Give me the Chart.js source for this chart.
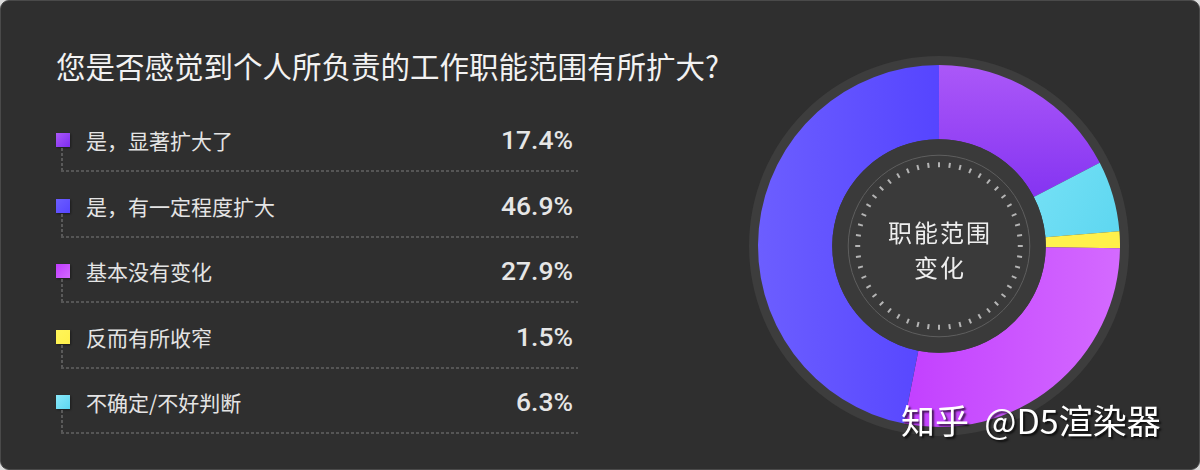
<!DOCTYPE html>
<html>
<head>
<meta charset="utf-8">
<script src="https://cdn.jsdelivr.net/npm/chart.js@4.4.0/dist/chart.umd.min.js"></script>
<style>
  html, body { margin: 0; padding: 0; background: #dcdcdc; }
  #card {
    position: relative; width: 1198px; height: 468px; background: #2f2f2f;
    border: 1px solid #4a4a4a; border-radius: 9px; overflow: hidden;
    font-family: "Noto Sans CJK SC", "Noto Sans", sans-serif;
  }
  #title { position: absolute; left: 55px; top: 44px; font-size: 29.5px; line-height: 40px; color: #f2f2f2; white-space: nowrap; }
  #legend { position: absolute; left: 0; top: 0; width: 600px; height: 468px; }
  .row { position: absolute; left: 0; width: 600px; height: 40px; }
  .mark { position: absolute; left: 55px; top: 13px; width: 14px; height: 14px; box-shadow: 1px 1px 2px rgba(0,0,0,0.4); }
  .vline { position: absolute; left: 60px; top: 28px; width: 2px; height: 23px;
           background: repeating-linear-gradient(to bottom, #5a5a5a 0 3px, transparent 3px 5px); }
  .hline { position: absolute; left: 60px; top: 50px; width: 517px; height: 2px;
           background: repeating-linear-gradient(to right, #555 0 3px, transparent 3px 5px); }
  .lab { position: absolute; left: 85px; top: 0; font-size: 21px; line-height: 40px; color: #e4e4e4; white-space: nowrap; }
  .pct { position: absolute; right: 28px; top: 0; font-family: Roboto, sans-serif; font-weight: 500; font-size: 26.5px; line-height: 40px; color: #e6e6e6; }
  #wrap { position: absolute; left: 738px; top: 45px; width: 400px; height: 400px; }
  #wm { position: absolute; left: 900px; top: 397px; font-size: 34px; line-height: 44px; color: #fff; white-space: pre;
        text-shadow: 2px 2px 2px rgba(0,0,0,0.7); }
</style>
</head>
<body>
<div id="card">
  <div id="title">您是否感觉到个人所负责的工作职能范围有所扩大?</div>
  <div id="legend"></div>
  <div id="wrap"><canvas id="donut"></canvas></div>
  <div id="wm">知乎  @D5渲染器</div>
</div>
<script>
const labels = ['是，显著扩大了', '是，有一定程度扩大', '基本没有变化', '反而有所收窄', '不确定/不好判断'];
const values = [17.4, 46.9, 27.9, 1.5, 6.3];
// clockwise order of the slices from 12 o'clock
const donutOrder = [0, 4, 3, 2, 1];
const centerLines = ['职能范围', '变化'];

// gradient stops per category [start, end]
const colors = [
  ['#ab58f8', '#7c2cf0'],
  ['#6c5eff', '#5645ff'],
  ['#c03bff', '#d46aff'],
  ['#fff55a', '#fff04a'],
  ['#8ae9fa', '#5cd6f0']
];

// legend rows
const legend = document.getElementById('legend');
labels.forEach((name, i) => {
  const row = document.createElement('div');
  row.className = 'row';
  row.style.top = (119 + i * 65.5) + 'px';
  row.innerHTML =
    `<div class="mark" style="background:linear-gradient(135deg, ${colors[i][0]}, ${colors[i][1]})"></div>` +
    `<div class="vline"></div><div class="hline"></div>` +
    `<div class="lab">${name}</div><div class="pct">${values[i].toFixed(1)}%</div>`;
  legend.appendChild(row);
});

function sliceColor(context) {
  const idx = donutOrder[context.dataIndex];
  const chart = context.chart;
  const area = chart.chartArea;
  if (!area) return colors[idx][1];
  const cx = (area.left + area.right) / 2, cy = (area.top + area.bottom) / 2;
  const g = chart.ctx;
  let grad;
  if (idx === 0) grad = g.createLinearGradient(cx + 60, area.top, cx + 60, cy - 20);
  else if (idx === 1) grad = g.createLinearGradient(area.left, cy, cx, cy);
  else if (idx === 2) grad = g.createLinearGradient(cx - 60, cy, area.right, cy);
  else grad = g.createLinearGradient(cx, cy - 100, area.right, cy);
  grad.addColorStop(0, colors[idx][0]);
  grad.addColorStop(1, colors[idx][1]);
  return grad;
}

const decor = {
  id: 'decor',
  beforeDatasetsDraw(chart) {
    const arc = chart.getDatasetMeta(0).data[0];
    if (!arc) return;
    const { x, y, outerRadius } = arc.getProps(['x', 'y', 'outerRadius'], true);
    const ctx = chart.ctx;
    ctx.save();
    // grey rim
    ctx.beginPath();
    ctx.arc(x, y, outerRadius + 9, 0, Math.PI * 2);
    ctx.fillStyle = '#3d3d3d';
    ctx.fill();
    ctx.restore();
  },
  afterDatasetsDraw(chart) {
    const arc = chart.getDatasetMeta(0).data[0];
    if (!arc) return;
    const { x, y, innerRadius } = arc.getProps(['x', 'y', 'innerRadius'], true);
    const ctx = chart.ctx;
    ctx.save();
    ctx.beginPath();
    ctx.arc(x, y, innerRadius, 0, Math.PI * 2);
    ctx.fillStyle = '#3a3a3a';
    ctx.fill();
    ctx.beginPath();
    ctx.arc(x, y, innerRadius - 16, 0, Math.PI * 2);
    ctx.strokeStyle = '#5e5e5e';
    ctx.lineWidth = 1;
    ctx.stroke();
    ctx.strokeStyle = '#b5b5b5';
    ctx.lineWidth = 2;
    const n = 48;
    for (let k = 0; k < n; k++) {
      const a = (k / n) * Math.PI * 2;
      const r1 = innerRadius - 28, r2 = innerRadius - 23;
      ctx.beginPath();
      ctx.moveTo(x + Math.cos(a) * r1, y + Math.sin(a) * r1);
      ctx.lineTo(x + Math.cos(a) * r2, y + Math.sin(a) * r2);
      ctx.stroke();
    }
    ctx.fillStyle = '#eeeeee';
    ctx.font = '24px "Noto Sans CJK SC", sans-serif';
    ctx.textAlign = 'center';
    ctx.textBaseline = 'middle';
    ctx.letterSpacing = '2px';
    ctx.fillText(centerLines[0], x + 1, y - 13);
    ctx.fillText(centerLines[1], x + 1, y + 22);
    ctx.restore();
  }
};

new Chart(document.getElementById('donut'), {
  type: 'doughnut',
  data: {
    labels: donutOrder.map(i => labels[i]),
    datasets: [{
      data: donutOrder.map(i => values[i]),
      backgroundColor: sliceColor,
      borderWidth: 0,
      hoverOffset: 0
    }]
  },
  options: {
    responsive: true,
    maintainAspectRatio: false,
    animation: false,
    cutout: '59%',
    layout: { padding: 19 },
    plugins: { legend: { display: false }, tooltip: { enabled: false } }
  },
  plugins: [decor]
});
</script>
</body>
</html>
